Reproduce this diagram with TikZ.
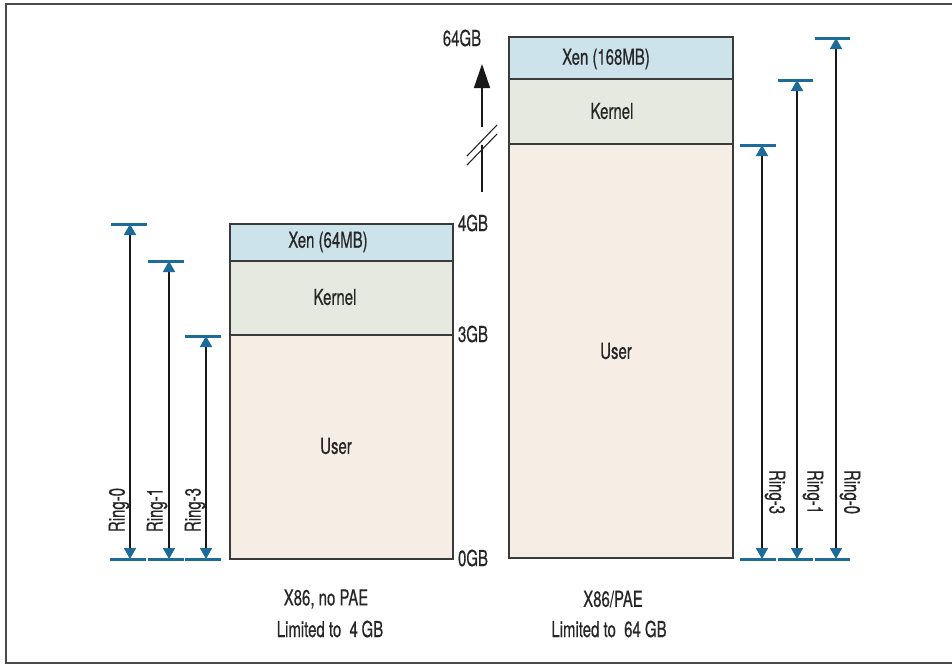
\documentclass[tikz,border=0pt]{standalone}
\usepackage{fontspec}
\setmainfont{TeX Gyre Heros}[FakeStretch=0.68,FakeBold=0.5]
\usetikzlibrary{arrows.meta}
\definecolor{ringblue}{HTML}{1D6B99}
\definecolor{xenc}{HTML}{CDE3EC}
\definecolor{kernc}{HTML}{E6E9E0}
\definecolor{userc}{HTML}{F6EEE5}
\definecolor{boxline}{HTML}{3A3A3A}
\definecolor{framec}{HTML}{4A4A4A}
\tikzset{
  lbl/.style={font=\fontsize{22}{25}\selectfont, inner sep=0pt, text=black!85},
  region/.style={draw=boxline, line width=1.4pt},
  bar/.style={draw=ringblue, line width=3pt},
  ring/.style={draw=black!90, line width=1.6pt,
    {Triangle[width=12pt,length=11pt,color=ringblue,fill=ringblue]}-{Triangle[width=12pt,length=11pt,color=ringblue,fill=ringblue]}},
}
\begin{document}
\begin{tikzpicture}[x=1pt,y=-1pt]
\useasboundingbox (0,0) rectangle (952,665);
% frame
\draw[framec, line width=2pt] (952,4) -- (6,4) -- (6,663) -- (952,663);

% ---------- left column ----------
\fill[userc] (230,335) rectangle (453,559);
\fill[kernc] (230,261) rectangle (453,335);
\fill[xenc] (230,224) rectangle (453,261);
\draw[region] (230,224) rectangle (453,559);
\draw[region] (230,261) -- (453,261);
\draw[region] (230,335) -- (453,335);
\node[lbl] (lxen) at (328,242) {Xen (64MB)};
\node[lbl] (lker) at (335,297) {Kernel};
\node[lbl] (lusr) at (336,446) {User};
\node[lbl] (g4) at (473,223) {4GB};
\node[lbl] (g3) at (473,334) {3GB};
\node[lbl] (g0) at (473,558) {0GB};

% left rings
\coordinate (l0t) at (130,224); \coordinate (l0b) at (130,559);
\coordinate (l1t) at (169,261); \coordinate (l1b) at (169,559);
\coordinate (l3t) at (206,336); \coordinate (l3b) at (206,559);
\draw[bar] (111,224) -- (147,224);
\draw[bar] (148,261) -- (184,261);
\draw[bar] (185,336) -- (221,336);
\draw[bar] (110,559) -- (146,559);
\draw[bar] (148,559) -- (184,559);
\draw[bar] (185,559) -- (221,559);
\draw[ring] (l0t) -- (l0b);
\draw[ring] (l1t) -- (l1b);
\draw[ring] (l3t) -- (l3b);
\node[lbl, rotate=90] (lr0) at (119,510) {Ring-0};
\node[lbl, rotate=90] (lr1) at (157,510) {Ring-1};
\node[lbl, rotate=90] (lr3) at (195,510) {Ring-3};

\node[lbl] (lcap1) at (326,599) {X86, no PAE};
\node[lbl] (lcap2) at (330,629) {Limited to\ \ 4\,GB};

% ---------- right column ----------
\fill[userc] (509,144) rectangle (733,558);
\fill[kernc] (509,79) rectangle (733,144);
\fill[xenc] (509,37) rectangle (733,79);
\draw[region] (509,37) rectangle (733,558);
\draw[region] (509,79) -- (733,79);
\draw[region] (509,144) -- (733,144);
\node[lbl] (rxen) at (606,59) {Xen (168MB)};
\node[lbl] (rker) at (612,111) {Kernel};
\node[lbl] (rusr) at (616,351) {User};
\node[lbl] (g64) at (462,38) {64GB};

% break arrow
\coordinate (a1) at (482,192); \coordinate (a2) at (482,145);
\coordinate (a3) at (482,127); \coordinate (a4) at (482,64);
\draw[black!90, line width=1.6pt] (a1) -- (a2);
\draw[black!90, line width=1.6pt, -{Triangle[width=16pt,length=24pt]}] (a3) -- (a4);
\draw[black!85, line width=1.1pt] (467,156) -- (497,125);
\draw[black!85, line width=1.1pt] (467,165) -- (497,134);

% right rings
\coordinate (r3t) at (762,145); \coordinate (r3b) at (762,559);
\coordinate (r1t) at (797,80);  \coordinate (r1b) at (797,559);
\coordinate (r0t) at (836,38);  \coordinate (r0b) at (836,559);
\draw[bar] (740,145) -- (776,145);
\draw[bar] (778,80) -- (813,80);
\draw[bar] (815,38) -- (850,38);
\draw[bar] (740,559) -- (776,559);
\draw[bar] (778,559) -- (813,559);
\draw[bar] (815,559) -- (850,559);
\draw[ring] (r3t) -- (r3b);
\draw[ring] (r1t) -- (r1b);
\draw[ring] (r0t) -- (r0b);
\node[lbl, rotate=-90] (rr3) at (775,492) {Ring-3};
\node[lbl, rotate=-90] (rr1) at (813,492) {Ring-1};
\node[lbl, rotate=-90] (rr0) at (850,492) {Ring-0};

\node[lbl] (rcap1) at (613,599) {X86/PAE};
\node[lbl] (rcap2) at (609,629) {Limited to\ \ 64 GB};
\end{tikzpicture}
\end{document}
